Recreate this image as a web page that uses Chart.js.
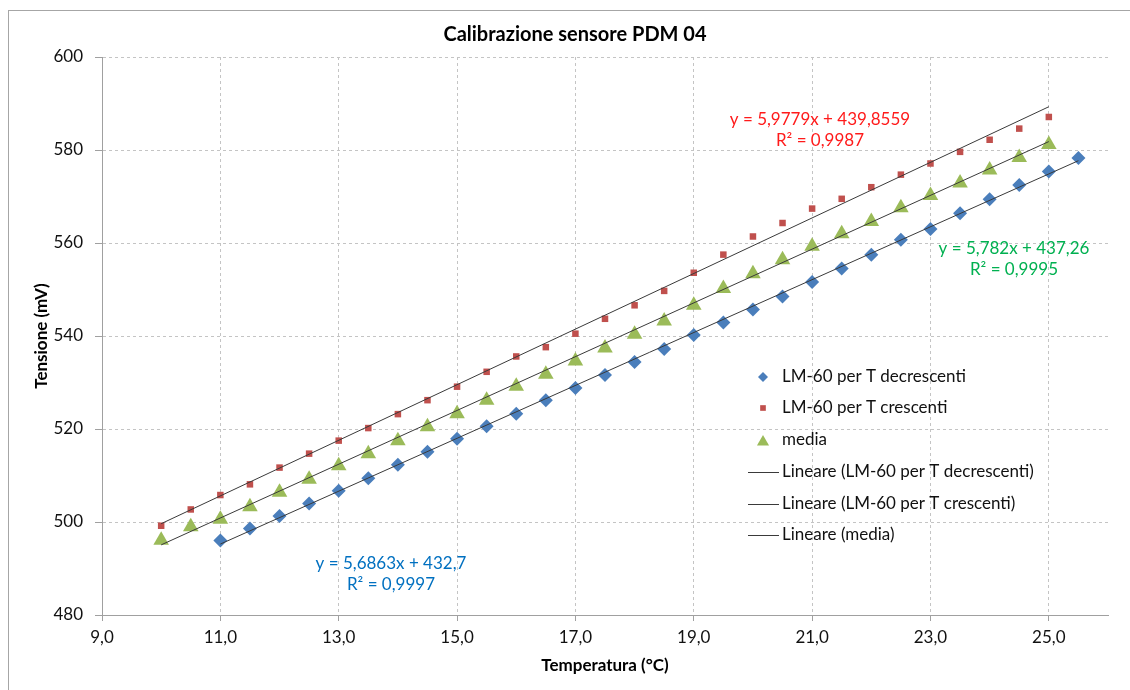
<!DOCTYPE html>
<html>
<head>
<meta charset="utf-8">
<title>Calibrazione sensore PDM 04</title>
<script src="https://cdn.jsdelivr.net/npm/chart.js@4.4.1/dist/chart.umd.min.js"></script>
<style>
    html, body { margin: 0; padding: 0; background: #fff; }
    #wrap { width: 1130px; height: 690px; position: relative; }
</style>
</head>
<body>
<div id="wrap"><canvas id="calChart" width="1130" height="690"></canvas></div>
<script>
// Temperature steps (°C)
const tempDecr = [11, 11.5, 12, 12.5, 13, 13.5, 14, 14.5, 15, 15.5, 16, 16.5, 17, 17.5, 18, 18.5,
    19, 19.5, 20, 20.5, 21, 21.5, 22, 22.5, 23, 23.5, 24, 24.5, 25, 25.5];
const tempCresc = [10, 10.5, 11, 11.5, 12, 12.5, 13, 13.5, 14, 14.5, 15, 15.5, 16, 16.5, 17, 17.5,
    18, 18.5, 19, 19.5, 20, 20.5, 21, 21.5, 22, 22.5, 23, 23.5, 24, 24.5, 25];

// LM-60 output (mV)
const mvDecr = [496.0, 498.6, 501.3, 504.0, 506.7, 509.4, 512.3, 515.1, 517.9, 520.6, 523.3, 526.2,
    528.8, 531.6, 534.4, 537.2, 540.2, 542.9, 545.7, 548.5, 551.6, 554.5, 557.5, 560.7, 563.0,
    566.4, 569.4, 572.5, 575.4, 578.3];
const mvCresc = [499.2, 502.7, 505.8, 508.1, 511.7, 514.7, 517.5, 520.2, 523.2, 526.2, 529.1, 532.3,
    535.6, 537.6, 540.5, 543.7, 546.6, 549.7, 553.6, 557.5, 561.4, 564.3, 567.4, 569.5, 572.0,
    574.7, 577.1, 579.6, 582.2, 584.6, 587.1];
const mvMedia = [496.1, 499.0, 500.6, 503.3, 506.4, 509.2, 512.1, 514.7, 517.5, 520.5, 523.3, 526.2,
    529.2, 531.8, 534.6, 537.4, 540.4, 543.2, 546.6, 550.2, 553.4, 556.4, 559.3, 562.0, 564.6,
    567.6, 570.2, 572.9, 575.7, 578.4, 581.2];

// Linear fits: decrescenti, crescenti, media
const fitSlope = [5.6863, 5.9779, 5.782];
const fitIntercept = [432.7, 439.8559, 437.26];
const fitR2 = ['0,9997', '0,9987', '0,9995'];
const fitEq = ['y = 5,6863x + 432,7', 'y = 5,9779x + 439,8559', 'y = 5,782x + 437,26'];

// Axis ticks
const xTicks = [9, 11, 13, 15, 17, 19, 21, 23, 25];
const yTicks = [480, 500, 520, 540, 560, 580, 600];

const seriesNames = ['LM-60 per T decrescenti', 'LM-60 per T crescenti', 'media'];

const BLUE = '#4a7ebb';
const RED = '#c0504d';
const GREEN = '#9bbb59';
const FIT = '#3a3a3a';
const AXIS = '#a0a0a0';
const FONT = 'Lato, "Open Sans", sans-serif';

function toPoints(xs, ys) {
    return xs.map((x, i) => ({ x: x, y: ys[i] }));
}

function fitLine(k, xs) {
    const x0 = xs[0], x1 = xs[xs.length - 1];
    return [
        { x: x0, y: fitSlope[k] * x0 + fitIntercept[k] },
        { x: x1, y: fitSlope[k] * x1 + fitIntercept[k] }
    ];
}

function fmt1(v) {
    return v.toFixed(1).replace('.', ',');
}

// Frame, title, solid axes, trendline equations and the in-plot legend
const decorPlugin = {
    id: 'decor',
    beforeDraw(chart) {
        const ctx = chart.ctx;
        ctx.save();
        ctx.fillStyle = '#fff';
        ctx.fillRect(0, 0, chart.width, chart.height);
        ctx.strokeStyle = '#a6a6a6';
        ctx.lineWidth = 1;
        ctx.strokeRect(8.5, 10.5, chart.width + 10, chart.height + 10);
        ctx.restore();
    },
    beforeDatasetsDraw(chart) {
        // axis lines stay solid while the grid is dashed
        const { ctx, chartArea: a } = chart;
        ctx.save();
        ctx.strokeStyle = AXIS;
        ctx.lineWidth = 1;
        ctx.setLineDash([]);
        ctx.beginPath();
        ctx.moveTo(Math.round(a.left) + 0.5, a.top);
        ctx.lineTo(Math.round(a.left) + 0.5, a.bottom);
        ctx.moveTo(a.left, Math.round(a.bottom) + 0.5);
        ctx.lineTo(a.right, Math.round(a.bottom) + 0.5);
        ctx.stroke();
        ctx.restore();
    },
    afterDraw(chart) {
        const ctx = chart.ctx;
        ctx.save();

        // title
        ctx.fillStyle = '#000';
        ctx.font = 'bold 20px ' + FONT;
        ctx.textAlign = 'center';
        ctx.textBaseline = 'middle';
        ctx.fillText('Calibrazione sensore PDM 04', 575, 35);

        // trendline equations
        ctx.font = '17px ' + FONT;
        const eqPos = [
            { x: 391, y: 564, color: '#0070c0' },
            { x: 820, y: 120, color: '#ff1a1a' },
            { x: 1014, y: 249, color: '#00b050' }
        ];
        eqPos.forEach((p, i) => {
            ctx.fillStyle = p.color;
            ctx.fillText(fitEq[i], p.x, p.y);
            ctx.fillText('R² = ' + fitR2[i], p.x, p.y + 21);
        });

        // legend
        const rows = [377, 408, 440, 472, 504, 535];
        const styles = [
            { style: 'rectRot', r: 5, color: BLUE },
            { style: 'rect', r: 4, color: RED },
            { style: 'triangle', r: 7, color: GREEN }
        ];
        ctx.font = '17px ' + FONT;
        ctx.textAlign = 'left';
        styles.forEach((s, i) => {
            ctx.fillStyle = s.color;
            Chart.helpers.drawPoint(ctx, { pointStyle: s.style, radius: s.r, borderWidth: 0 },
                763, rows[i] + (s.style === 'triangle' ? 2 : 0));
            ctx.fillStyle = '#111';
            ctx.fillText(seriesNames[i], 782, rows[i]);
        });
        seriesNames.forEach((name, i) => {
            const y = rows[i + 3];
            ctx.strokeStyle = FIT;
            ctx.lineWidth = 1;
            ctx.beginPath();
            ctx.moveTo(748, y + 0.5);
            ctx.lineTo(779, y + 0.5);
            ctx.stroke();
            ctx.fillStyle = '#111';
            ctx.fillText('Lineare (' + name + ')', 782, y);
        });
        ctx.restore();
    }
};

const ctx = document.getElementById('calChart').getContext('2d');
const calChart = new Chart(ctx, {
    type: 'scatter',
    data: {
        datasets: [
            {
                label: seriesNames[0],
                data: toPoints(tempDecr, mvDecr),
                pointStyle: 'rectRot',
                pointRadius: 7,
                backgroundColor: BLUE,
                borderWidth: 0,
                order: 1
            },
            {
                label: seriesNames[1],
                data: toPoints(tempCresc, mvCresc),
                pointStyle: 'rect',
                pointRadius: 4.6,
                backgroundColor: RED,
                borderWidth: 0,
                order: 1
            },
            {
                label: seriesNames[2],
                data: toPoints(tempCresc, mvMedia),
                pointStyle: 'triangle',
                pointRadius: 9,
                backgroundColor: GREEN,
                borderWidth: 0,
                order: 1
            },
            {
                label: 'Lineare (' + seriesNames[0] + ')',
                data: fitLine(0, tempDecr),
                showLine: true,
                pointRadius: 0,
                borderColor: FIT,
                borderWidth: 1,
                order: 0
            },
            {
                label: 'Lineare (' + seriesNames[1] + ')',
                data: fitLine(1, tempCresc),
                showLine: true,
                pointRadius: 0,
                borderColor: FIT,
                borderWidth: 1,
                order: 0
            },
            {
                label: 'Lineare (' + seriesNames[2] + ')',
                data: fitLine(2, tempCresc),
                showLine: true,
                pointRadius: 0,
                borderColor: FIT,
                borderWidth: 1,
                order: 0
            }
        ]
    },
    options: {
        responsive: false,
        animation: false,
        layout: { padding: { top: 57, right: 22, left: 0, bottom: 0 } },
        plugins: {
            legend: { display: false },
            title: { display: false },
            tooltip: { enabled: false }
        },
        scales: {
            x: {
                type: 'linear',
                min: 9,
                max: 26,
                afterBuildTicks: scale => { scale.ticks = xTicks.map(v => ({ value: v })); },
                afterFit: scale => { scale.height = 75; },
                grid: {
                    color: '#c4c4c4',
                    tickLength: 6,
                    tickColor: AXIS,
                    tickBorderDash: [1, 0]
                },
                border: { color: AXIS, width: 1, dash: [3, 3] },
                ticks: {
                    color: '#111',
                    font: { family: FONT, size: 17 },
                    padding: 6,
                    maxRotation: 0,
                    callback: v => fmt1(v)
                },
                title: {
                    display: true,
                    text: 'Temperatura (°C)',
                    color: '#000',
                    font: { family: FONT, size: 17, weight: 'bold' },
                    padding: { top: 0, bottom: 14 }
                }
            },
            y: {
                type: 'linear',
                min: 480,
                max: 600,
                afterBuildTicks: scale => { scale.ticks = yTicks.map(v => ({ value: v })); },
                afterFit: scale => { scale.width = 102; },
                grid: {
                    color: '#c4c4c4',
                    tickLength: 7,
                    tickColor: AXIS,
                    tickBorderDash: [1, 0]
                },
                border: { color: AXIS, width: 1, dash: [3, 3] },
                ticks: {
                    color: '#111',
                    font: { family: FONT, size: 17 },
                    padding: 12
                },
                title: {
                    display: true,
                    text: 'Tensione (mV)',
                    color: '#000',
                    font: { family: FONT, size: 17, weight: 'bold' },
                    padding: { top: 31, bottom: 0 }
                }
            }
        }
    },
    plugins: [decorPlugin]
});
</script>
</body>
</html>
